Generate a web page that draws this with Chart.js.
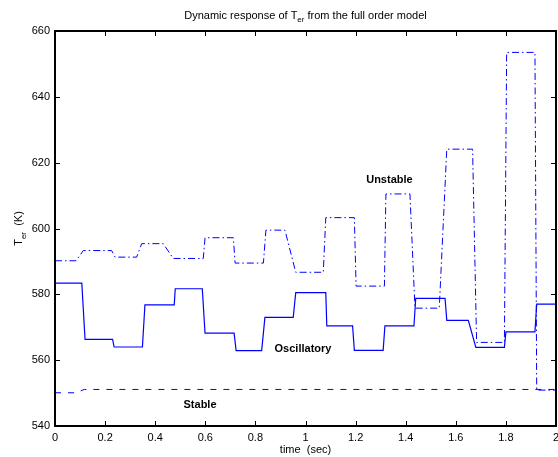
<!DOCTYPE html>
<html>
<head>
<meta charset="utf-8">
<script src="https://cdn.jsdelivr.net/npm/chart.js@4.4.1/dist/chart.umd.min.js"></script>
<style>
  html, body { margin: 0; padding: 0; background: #fff; }
  canvas { display: block; }
</style>
</head>
<body>
<canvas id="chart" width="558" height="457"></canvas>
<script>
// time (sec) and T_er (K)
const stableTime = [0, 0.084, 0.117, 2.0];
const stableTemp = [550.1, 550.1, 551.1, 551.1];

const oscTime = [0, 0.107, 0.12, 0.23, 0.236, 0.349, 0.359, 0.476, 0.48, 0.588, 0.599, 0.715, 0.723, 0.825,
  0.838, 0.951, 0.961, 1.081, 1.085, 1.188, 1.195, 1.31, 1.317, 1.433, 1.44, 1.557, 1.564, 1.65, 1.68,
  1.794, 1.80, 1.916, 1.923, 2.0];
const oscTemp = [583.4, 583.4, 566.3, 566.3, 564.0, 564.0, 576.8, 576.8, 581.7, 581.7, 568.2, 568.2, 562.9, 562.9,
  573.0, 573.0, 580.5, 580.5, 570.4, 570.4, 563.0, 563.0, 570.4, 570.4, 578.8, 578.8, 572.1, 572.1, 563.9,
  563.9, 568.6, 568.6, 577.0, 577.0];

const unstTime = [0, 0.084, 0.113, 0.226, 0.24, 0.326, 0.346, 0.432, 0.472, 0.592, 0.599, 0.712, 0.719, 0.832,
  0.842, 0.918, 0.961, 1.071, 1.081, 1.195, 1.202, 1.315, 1.321, 1.417, 1.437, 1.534, 1.564, 1.667, 1.683,
  1.794, 1.803, 1.916, 1.923, 2.0];
const unstTemp = [590.2, 590.2, 593.3, 593.3, 591.3, 591.3, 595.4, 595.4, 590.9, 590.9, 597.2, 597.2, 589.5, 589.5,
  599.5, 599.5, 586.7, 586.7, 603.3, 603.3, 582.5, 582.5, 610.5, 610.5, 575.8, 575.8, 624.1, 624.1, 565.4,
  565.4, 653.5, 653.5, 550.9, 550.9];

const xTicks = [0, 0.2, 0.4, 0.6, 0.8, 1, 1.2, 1.4, 1.6, 1.8, 2];
const xTickLabels = ["0", "0.2", "0.4", "0.6", "0.8", "1", "1.2", "1.4", "1.6", "1.8", "2"];
const yTicks = [540, 560, 580, 600, 620, 640, 660];
const yTickLabels = ["540", "560", "580", "600", "620", "640", "660"];

// text labels placed in data coordinates
const notes = [
  { text: "Unstable", x: 1.335, y: 614.8 },
  { text: "Oscillatory", x: 0.99, y: 563.4 },
  { text: "Stable", x: 0.579, y: 546.4 },
];

const FONT = "'Liberation Sans', Arial, Helvetica, sans-serif";
const BLUE = "#0000ff";

function pts(xs, ys) {
  return xs.map((x, i) => ({ x: x, y: ys[i] }));
}

const matlabFrame = {
  id: "matlabFrame",
  afterDraw(chart) {
    const ctx = chart.ctx;
    const a = chart.chartArea;
    const xs = chart.scales.x, ys = chart.scales.y;
    ctx.save();
    // ticks inward on all four sides
    ctx.strokeStyle = "#000";
    ctx.lineWidth = 1;
    ctx.beginPath();
    xTicks.forEach(v => {
      const px = Math.round(xs.getPixelForValue(v)) + 0.5;
      ctx.moveTo(px, a.bottom); ctx.lineTo(px, a.bottom - 5);
      ctx.moveTo(px, a.top); ctx.lineTo(px, a.top + 5);
    });
    yTicks.forEach(v => {
      const py = Math.round(ys.getPixelForValue(v)) + 0.5;
      ctx.moveTo(a.left, py); ctx.lineTo(a.left + 5, py);
      ctx.moveTo(a.right, py); ctx.lineTo(a.right - 5, py);
    });
    ctx.stroke();
    // box
    ctx.lineWidth = 2;
    ctx.strokeRect(a.left, a.top, a.right - a.left, a.bottom - a.top);

    // annotations
    ctx.fillStyle = "#000";
    ctx.font = "bold 11px " + FONT;
    ctx.textAlign = "center";
    ctx.textBaseline = "middle";
    notes.forEach(n => {
      ctx.fillText(n.text, xs.getPixelForValue(n.x), ys.getPixelForValue(n.y));
    });

    // title with subscript
    const cx = (a.left + a.right) / 2;
    const p1 = "Dynamic response of T", sub = "er", p2 = " from the full order model";
    ctx.textAlign = "left";
    ctx.textBaseline = "alphabetic";
    ctx.font = "11px " + FONT;
    const w1 = ctx.measureText(p1).width, w3 = ctx.measureText(p2).width;
    ctx.font = "8px " + FONT;
    const w2 = ctx.measureText(sub).width;
    let x0 = cx - (w1 + w2 + w3) / 2;
    ctx.font = "11px " + FONT;
    ctx.fillText(p1, x0, 18.5);
    ctx.font = "8px " + FONT;
    ctx.fillText(sub, x0 + w1, 22);
    ctx.font = "11px " + FONT;
    ctx.fillText(p2, x0 + w1 + w2, 18.5);

    // y axis label, rotated, with subscript
    ctx.translate(22, (a.top + a.bottom) / 2);
    ctx.rotate(-Math.PI / 2);
    const q1 = "T", q2 = "er", q3 = "  (K)";
    ctx.font = "11px " + FONT;
    const v1 = ctx.measureText(q1).width, v3 = ctx.measureText(q3).width;
    ctx.font = "8px " + FONT;
    const v2 = ctx.measureText(q2).width;
    x0 = -(v1 + v2 + v3) / 2;
    ctx.font = "11px " + FONT;
    ctx.fillText(q1, x0, 0);
    ctx.font = "8px " + FONT;
    ctx.fillText(q2, x0 + v1, 3.5);
    ctx.font = "11px " + FONT;
    ctx.fillText(q3, x0 + v1 + v2, 0);
    ctx.restore();
  }
};

new Chart(document.getElementById("chart"), {
  type: "scatter",
  data: {
    datasets: [
      {
        label: "Stable",
        data: pts(stableTime, stableTemp),
        showLine: true, borderColor: BLUE, borderWidth: 1, borderDash: [6, 7],
        pointRadius: 0, tension: 0,
      },
      {
        label: "Oscillatory",
        data: pts(oscTime, oscTemp),
        showLine: true, borderColor: BLUE, borderWidth: 1.2,
        pointRadius: 0, tension: 0,
      },
      {
        label: "Unstable",
        data: pts(unstTime, unstTemp),
        showLine: true, borderColor: BLUE, borderWidth: 1, borderDash: [7, 3, 1.5, 3],
        pointRadius: 0, tension: 0,
      },
    ],
  },
  options: {
    responsive: false,
    animation: false,
    devicePixelRatio: 1,
    layout: { padding: { top: 31, right: 2, left: 0, bottom: 0 } },
    plugins: {
      legend: { display: false },
      title: { display: false },
      tooltip: { enabled: false },
    },
    scales: {
      x: {
        type: "linear", min: 0, max: 2,
        grid: { display: false, drawTicks: false },
        border: { display: false },
        afterBuildTicks: s => { s.ticks = xTicks.map(v => ({ value: v })); },
        afterFit: s => { s.height = 31; s.paddingLeft = 0; s.paddingRight = 0; },
        ticks: {
          color: "#000", padding: 5, maxRotation: 0, autoSkip: false,
          font: { family: FONT, size: 11 },
          callback: (v, i) => xTickLabels[i],
        },
        title: { display: true, text: "time  (sec)", color: "#000", font: { family: FONT, size: 11 }, padding: 0 },
      },
      y: {
        type: "linear", min: 540, max: 660,
        grid: { display: false, drawTicks: false },
        border: { display: false },
        afterBuildTicks: s => { s.ticks = yTicks.map(v => ({ value: v })); },
        afterFit: s => { s.width = 55; s.paddingTop = 0; s.paddingBottom = 0; },
        ticks: {
          color: "#000", padding: 5, autoSkip: false,
          font: { family: FONT, size: 11 },
          callback: (v, i) => yTickLabels[i],
        },
      },
    },
  },
  plugins: [matlabFrame],
});
</script>
</body>
</html>
